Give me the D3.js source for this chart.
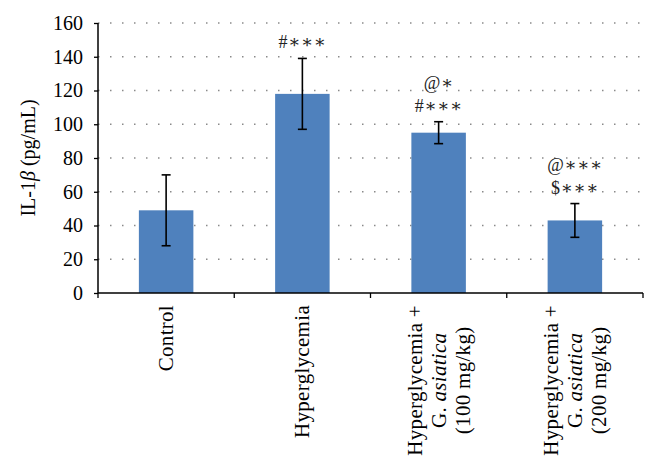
<!DOCTYPE html>
<html><head><meta charset="utf-8">
<script src="https://cdn.jsdelivr.net/npm/d3@7/dist/d3.min.js"></script>
<style>body{margin:0;background:#fff}svg{display:block}</style>
</head><body><svg id="c" width="658" height="470"></svg>
<script>
const categories = ["Control", "Hyperglycemia", "Hyperglycemia + G. asiatica (100 mg/kg)", "Hyperglycemia + G. asiatica (200 mg/kg)"];
const labelLines = [
  [[["Control", false]]],
  [[["Hyperglycemia", false]]],
  [[["Hyperglycemia +", false]], [["G. ", false], ["asiatica", true]], [["(100 mg/kg)", false]]],
  [[["Hyperglycemia +", false]], [["G. ", false], ["asiatica", true]], [["(200 mg/kg)", false]]]
];
const values = [49, 118, 95, 43];
const errors = [21, 21, 6.5, 10];
const annotations = [[], ["#∗∗∗"], ["@∗", "#∗∗∗"], ["@∗∗∗", "$∗∗∗"]];
const yTicks = [0, 20, 40, 60, 80, 100, 120, 140, 160];

const svg = d3.select("#c");
const font = "'Liberation Serif', 'DejaVu Serif', serif";
const L = 98, R = 643, T = 23, B = 293;
const x = d3.scaleBand().domain(categories).range([L, R]).paddingInner(0.6).paddingOuter(0.3);
const xb = d3.scaleBand().domain(categories).range([L, R]);
const y = d3.scaleLinear().domain([0, 160]).range([B, T]);

// grid
svg.append("g").selectAll("line").data(yTicks.filter(d => d > 0)).join("line")
  .attr("x1", L).attr("x2", R).attr("y1", d => y(d)).attr("y2", d => y(d))
  .attr("stroke", "#8a8a8a").attr("stroke-width", 1.5).attr("stroke-dasharray", "1.5,10.5");

// bars
svg.append("g").selectAll("rect").data(values).join("rect")
  .attr("x", (d, i) => x(categories[i])).attr("width", x.bandwidth())
  .attr("y", d => y(d)).attr("height", d => B - y(d))
  .attr("fill", "#4f81bd");

// error bars
const eg = svg.append("g").attr("stroke", "#000").attr("stroke-width", 1.6);
values.forEach((v, i) => {
  const cx = x(categories[i]) + x.bandwidth() / 2;
  eg.append("line").attr("x1", cx).attr("x2", cx).attr("y1", y(v + errors[i])).attr("y2", y(v - errors[i]));
  [v + errors[i], v - errors[i]].forEach(e => eg.append("line").attr("x1", cx - 4.5).attr("x2", cx + 4.5).attr("y1", y(e)).attr("y2", y(e)));
});

// annotations
values.forEach((v, i) => {
  const cx = x(categories[i]) + x.bandwidth() / 2;
  const top = y(v + errors[i]);
  const lines = annotations[i];
  lines.forEach((t, j) => {
    svg.append("text").attr("x", cx).attr("y", top - 10 - (lines.length - 1 - j) * 23)
      .attr("text-anchor", "middle").attr("font-family", font).attr("font-size", 18)
      .attr("letter-spacing", 0.5).attr("fill", "#222").text(t);
  });
});

// y axis
const ya = svg.append("g").attr("transform", `translate(${L},0)`)
  .call(d3.axisLeft(y).tickValues(yTicks).tickSize(4).tickPadding(11).tickSizeOuter(0));
ya.select(".domain").attr("stroke-width", 1.5).attr("d", `M0,${T}V${B}`);
ya.selectAll(".tick line").attr("stroke-width", 1.3);
ya.selectAll("text").attr("font-family", font).attr("font-size", 20).attr("fill", "#000");

// x axis
const xa = svg.append("g").attr("transform", `translate(0,${B})`);
xa.append("line").attr("x1", L).attr("x2", R).attr("stroke", "#000").attr("stroke-width", 1.5);
xa.selectAll(".tk").data([...categories.map(c => xb(c)), R]).join("line")
  .attr("x1", d => d).attr("x2", d => d).attr("y1", 0).attr("y2", 5)
  .attr("stroke", "#000").attr("stroke-width", 1.3);

// x labels
categories.forEach((c, i) => {
  const cx = xb(c) + xb.bandwidth() / 2;
  const lines = labelLines[i];
  const n = lines.length;
  const g = svg.append("g");
  const texts = lines.map((segs, j) => {
    const t = g.append("text").attr("font-family", font).attr("font-size", 21).attr("fill", "#000")
      .attr("letter-spacing", 0.3).attr("text-anchor", "middle");
    segs.forEach(s => t.append("tspan").attr("font-style", s[1] ? "italic" : "normal").text(s[0]));
    return t;
  });
  const maxLen = d3.max(texts, t => t.node().getComputedTextLength());
  const midY = B + 12 + maxLen / 2;
  texts.forEach((t, j) => {
    const lx = cx + (j - (n - 1) / 2) * 24 + 7;
    t.attr("transform", `translate(${lx},${midY}) rotate(-90)`);
  });
});

// y label
const yl = svg.append("text").attr("transform", "translate(35,158) rotate(-90)")
  .attr("text-anchor", "middle").attr("font-family", font).attr("font-size", 20).attr("fill", "#000");
yl.append("tspan").text("IL-1");
yl.append("tspan").attr("font-style", "italic").text("β");
yl.append("tspan").text(" (pg/mL)");
</script></body></html>
